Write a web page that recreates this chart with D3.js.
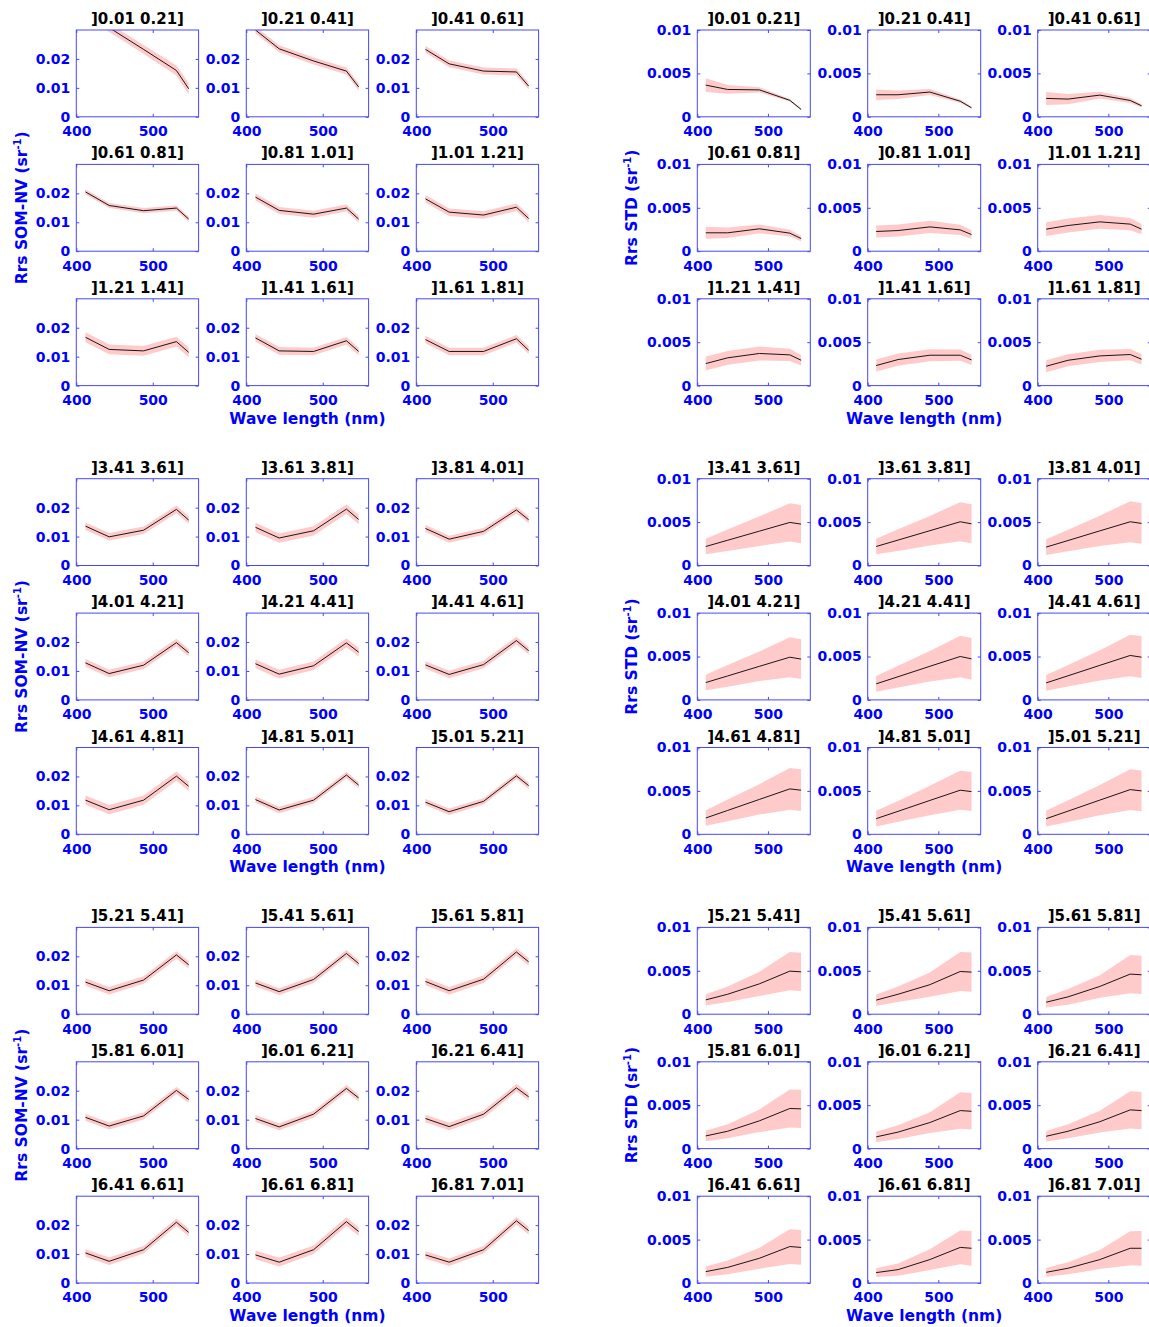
<!DOCTYPE html>
<html><head><meta charset="utf-8">
<script src="https://cdn.jsdelivr.net/npm/d3@7"></script>
<style>
body{margin:0;background:#fff}
text{font-family:"DejaVu Sans",sans-serif;font-weight:bold}
</style>
</head><body>
<svg id="c" width="1149" height="1327"></svg>
<script>
// ---------------- data ----------------
const wavelengths = [412, 443, 488, 531, 547];
const xTicks = [400, 500];
const somTicks = [0, 0.01, 0.02];
const somTickLabels = ["0", "0.01", "0.02"];
const stdTicks = [0, 0.005, 0.01];
const stdTickLabels = ["0", "0.005", "0.01"];
const xTickLabels = ["400", "500"];
const xLabel = "Wave length (nm)";
const somLabel = "Rrs SOM-NV (sr";
const stdLabel = "Rrs STD (sr";

const binTitles = [
  "]0.01 0.21]", "]0.21 0.41]", "]0.41 0.61]",
  "]0.61 0.81]", "]0.81 1.01]", "]1.01 1.21]",
  "]1.21 1.41]", "]1.41 1.61]", "]1.61 1.81]",
  "]3.41 3.61]", "]3.61 3.81]", "]3.81 4.01]",
  "]4.01 4.21]", "]4.21 4.41]", "]4.41 4.61]",
  "]4.61 4.81]", "]4.81 5.01]", "]5.01 5.21]",
  "]5.21 5.41]", "]5.41 5.61]", "]5.61 5.81]",
  "]5.81 6.01]", "]6.01 6.21]", "]6.21 6.41]",
  "]6.41 6.61]", "]6.61 6.81]", "]6.81 7.01]"
];

// Rrs SOM-NV mean spectra (sr^-1)
const somMean = [
  [0.0360, 0.0308, 0.0233, 0.0160, 0.0097],
  [0.0300, 0.0235, 0.0193, 0.0158, 0.0103],
  [0.0233, 0.0183, 0.0158, 0.0155, 0.0106],
  [0.0205, 0.0158, 0.0140, 0.0149, 0.0111],
  [0.0187, 0.0141, 0.0128, 0.0149, 0.0111],
  [0.0181, 0.0135, 0.0125, 0.0152, 0.0113],
  [0.0167, 0.0125, 0.0120, 0.0152, 0.0115],
  [0.0165, 0.0120, 0.0118, 0.0155, 0.0118],
  [0.0159, 0.0118, 0.0118, 0.0162, 0.0122],
  [0.0136, 0.0099, 0.0122, 0.0194, 0.0157],
  [0.0132, 0.0095, 0.0120, 0.0195, 0.0159],
  [0.0128, 0.0091, 0.0118, 0.0192, 0.0158],
  [0.0128, 0.0091, 0.0120, 0.0198, 0.0163],
  [0.0125, 0.0089, 0.0118, 0.0197, 0.0165],
  [0.0121, 0.0088, 0.0122, 0.0205, 0.0170],
  [0.0118, 0.0085, 0.0118, 0.0201, 0.0166],
  [0.0120, 0.0084, 0.0118, 0.0205, 0.0170],
  [0.0111, 0.0078, 0.0114, 0.0202, 0.0168],
  [0.0111, 0.0081, 0.0118, 0.0205, 0.0171],
  [0.0108, 0.0078, 0.0120, 0.0210, 0.0175],
  [0.0113, 0.0081, 0.0121, 0.0215, 0.0181],
  [0.0108, 0.0078, 0.0113, 0.0201, 0.0170],
  [0.0104, 0.0075, 0.0119, 0.0208, 0.0175],
  [0.0104, 0.0076, 0.0119, 0.0210, 0.0179],
  [0.0104, 0.0075, 0.0115, 0.0210, 0.0175],
  [0.0097, 0.0072, 0.0115, 0.0212, 0.0178],
  [0.0097, 0.0072, 0.0115, 0.0215, 0.0181]
];
// half-width of shaded band around SOM-NV spectra
const somSpread = [
  [0.0015, 0.0015, 0.0015, 0.0017, 0.0020],
  [0.0012, 0.0012, 0.0012, 0.0012, 0.0012],
  [0.0012, 0.0012, 0.0012, 0.0012, 0.0012],
  [0.0009, 0.0009, 0.0009, 0.0009, 0.0009],
  [0.0012, 0.0012, 0.0012, 0.0012, 0.0012],
  [0.0013, 0.0013, 0.0013, 0.0013, 0.0013],
  [0.0017, 0.0017, 0.0017, 0.0017, 0.0017],
  [0.0013, 0.0013, 0.0013, 0.0013, 0.0013],
  [0.0013, 0.0013, 0.0013, 0.0013, 0.0013],
  [0.0013, 0.0013, 0.0013, 0.0013, 0.0013],
  [0.0016, 0.0016, 0.0016, 0.0016, 0.0016],
  [0.0012, 0.0012, 0.0012, 0.0012, 0.0012],
  [0.0013, 0.0013, 0.0013, 0.0013, 0.0013],
  [0.0015, 0.0015, 0.0015, 0.0015, 0.0015],
  [0.0013, 0.0013, 0.0013, 0.0013, 0.0013],
  [0.0016, 0.0016, 0.0016, 0.0016, 0.0016],
  [0.0011, 0.0011, 0.0011, 0.0011, 0.0011],
  [0.0011, 0.0011, 0.0011, 0.0011, 0.0011],
  [0.0013, 0.0013, 0.0013, 0.0013, 0.0013],
  [0.0012, 0.0012, 0.0012, 0.0012, 0.0012],
  [0.0013, 0.0013, 0.0013, 0.0013, 0.0013],
  [0.0012, 0.0012, 0.0012, 0.0012, 0.0012],
  [0.0012, 0.0012, 0.0012, 0.0012, 0.0012],
  [0.0013, 0.0013, 0.0013, 0.0013, 0.0013],
  [0.0013, 0.0013, 0.0013, 0.0013, 0.0013],
  [0.0015, 0.0015, 0.0015, 0.0015, 0.0015],
  [0.0013, 0.0013, 0.0013, 0.0013, 0.0013]
];

// Rrs STD mean spectra (sr^-1)
const stdMean = [
  [0.00365, 0.00315, 0.00310, 0.00190, 0.00085],
  [0.00254, 0.00254, 0.00285, 0.00180, 0.00104],
  [0.00212, 0.00204, 0.00250, 0.00188, 0.00127],
  [0.00212, 0.00212, 0.00258, 0.00208, 0.00146],
  [0.00227, 0.00238, 0.00280, 0.00246, 0.00192],
  [0.00254, 0.00296, 0.00338, 0.00312, 0.00254],
  [0.00254, 0.00320, 0.00370, 0.00354, 0.00292],
  [0.00231, 0.00300, 0.00350, 0.00350, 0.00296],
  [0.00223, 0.00292, 0.00342, 0.00358, 0.00304],
  [0.00219, 0.00291, 0.00396, 0.00496, 0.00477],
  [0.00219, 0.00293, 0.00401, 0.00504, 0.00480],
  [0.00212, 0.00288, 0.00399, 0.00504, 0.00485],
  [0.00200, 0.00276, 0.00387, 0.00492, 0.00470],
  [0.00185, 0.00267, 0.00387, 0.00500, 0.00473],
  [0.00196, 0.00278, 0.00398, 0.00512, 0.00492],
  [0.00188, 0.00275, 0.00402, 0.00523, 0.00508],
  [0.00180, 0.00265, 0.00390, 0.00508, 0.00492],
  [0.00180, 0.00267, 0.00394, 0.00515, 0.00500],
  [0.00165, 0.00230, 0.00350, 0.00496, 0.00488],
  [0.00162, 0.00230, 0.00340, 0.00492, 0.00485],
  [0.00138, 0.00200, 0.00320, 0.00462, 0.00454],
  [0.00146, 0.00200, 0.00320, 0.00462, 0.00458],
  [0.00135, 0.00190, 0.00300, 0.00438, 0.00430],
  [0.00142, 0.00200, 0.00310, 0.00446, 0.00438],
  [0.00131, 0.00180, 0.00285, 0.00420, 0.00410],
  [0.00120, 0.00154, 0.00270, 0.00410, 0.00400],
  [0.00123, 0.00170, 0.00270, 0.00400, 0.00400]
];
// half-width of shaded band around STD spectra
const stdSpread = [
  [0.00080, 0.00050, 0.00030, 0.00015, 0.00010],
  [0.00060, 0.00050, 0.00035, 0.00020, 0.00012],
  [0.00075, 0.00060, 0.00040, 0.00030, 0.00020],
  [0.00070, 0.00060, 0.00050, 0.00040, 0.00030],
  [0.00070, 0.00070, 0.00070, 0.00060, 0.00050],
  [0.00080, 0.00080, 0.00080, 0.00070, 0.00060],
  [0.00080, 0.00080, 0.00080, 0.00070, 0.00060],
  [0.00070, 0.00070, 0.00070, 0.00065, 0.00060],
  [0.00070, 0.00070, 0.00070, 0.00065, 0.00060],
  [0.00090, 0.00125, 0.00170, 0.00220, 0.00220],
  [0.00090, 0.00125, 0.00170, 0.00225, 0.00225],
  [0.00090, 0.00125, 0.00175, 0.00235, 0.00235],
  [0.00090, 0.00125, 0.00170, 0.00230, 0.00230],
  [0.00090, 0.00125, 0.00175, 0.00240, 0.00240],
  [0.00090, 0.00125, 0.00175, 0.00240, 0.00240],
  [0.00090, 0.00125, 0.00175, 0.00240, 0.00240],
  [0.00090, 0.00120, 0.00170, 0.00225, 0.00225],
  [0.00090, 0.00125, 0.00175, 0.00235, 0.00235],
  [0.00065, 0.00090, 0.00140, 0.00220, 0.00220],
  [0.00065, 0.00090, 0.00140, 0.00225, 0.00225],
  [0.00060, 0.00090, 0.00130, 0.00220, 0.00220],
  [0.00060, 0.00080, 0.00130, 0.00220, 0.00220],
  [0.00060, 0.00080, 0.00120, 0.00210, 0.00210],
  [0.00060, 0.00080, 0.00125, 0.00215, 0.00215],
  [0.00060, 0.00080, 0.00120, 0.00200, 0.00200],
  [0.00050, 0.00070, 0.00120, 0.00195, 0.00200],
  [0.00050, 0.00070, 0.00110, 0.00195, 0.00200]
];

// ---------------- layout ----------------
const svg = d3.select("#c");
const BLUE = "#0000ff", BOX = "#4646ff", BAND = "#ffcaca";
const leftCols = [76.3, 246.3, 416.3], leftW = 122.3;
const rightCols = [697.3, 867.7, 1037.7], rightW = 113;
const panelH = 86.8;
const groupTop = g => 30 + g * 448.7;
const rowTop = (g, r) => groupTop(g) + r * 134.4;
let clipId = 0;

function panel(x0, y0, w, yDomain, yTicks, yLabels, mean, spread, title) {
  const x = d3.scaleLinear().domain([400, 560]).range([0, w]);
  const y = d3.scaleLinear().domain(yDomain).range([panelH, 0]);
  const g = svg.append("g").attr("transform", `translate(${x0},${y0})`);
  const id = "clip" + (clipId++);
  g.append("clipPath").attr("id", id).append("rect")
    .attr("x", 0).attr("y", 0).attr("width", w).attr("height", panelH);
  const plot = g.append("g").attr("clip-path", `url(#${id})`);
  const pts = wavelengths.map((wl, i) => ({wl, m: mean[i], s: spread[i]}));
  plot.append("path").datum(pts)
    .attr("fill", BAND).attr("stroke", "none")
    .attr("d", d3.area().x(d => x(d.wl)).y0(d => y(d.m - d.s)).y1(d => y(d.m + d.s)));
  plot.append("path").datum(pts)
    .attr("fill", "none").attr("stroke", "#000").attr("stroke-width", 0.9)
    .attr("d", d3.line().x(d => x(d.wl)).y(d => y(d.m)));

  // axes
  const fmtX = (d, i) => xTickLabels[i];
  const fmtY = (d, i) => yLabels[i];
  const ax = g.append("g").attr("transform", `translate(0,${panelH})`)
    .call(d3.axisBottom(x).tickValues(xTicks).tickFormat(fmtX).tickSize(-3).tickPadding(9.5));
  const ay = g.append("g")
    .call(d3.axisLeft(y).tickValues(yTicks).tickFormat(fmtY).tickSize(-3).tickPadding(6));
  const at = g.append("g")
    .call(d3.axisTop(x).tickValues(xTicks).tickFormat("").tickSize(-3));
  const ar = g.append("g").attr("transform", `translate(${w},0)`)
    .call(d3.axisRight(y).tickValues(yTicks).tickFormat("").tickSize(-3));
  [ax, ay, at, ar].forEach(a => {
    a.select(".domain").remove();
    a.selectAll("line").attr("stroke", BOX);
    a.selectAll("text").attr("fill", BLUE).style("font-size", "14px")
      .style("font-family", "'DejaVu Sans',sans-serif").style("font-weight", "bold");
  });
  g.append("rect").attr("x", 0).attr("y", 0).attr("width", w).attr("height", panelH)
    .attr("fill", "none").attr("stroke", BOX).attr("stroke-width", 1);
  g.append("text").attr("x", w / 2).attr("y", -6).attr("text-anchor", "middle")
    .attr("fill", "#000").style("font-size", "15px").text(title);
}

function yTitle(x, yc, label) {
  const t = svg.append("text").attr("transform", `translate(${x},${yc}) rotate(-90)`)
    .attr("text-anchor", "middle").attr("fill", BLUE).style("font-size", "15.5px");
  t.append("tspan").text(label);
  t.append("tspan").attr("dy", -6).style("font-size", "10px").text("-1");
  t.append("tspan").attr("dy", 6).text(")");
}

for (let g = 0; g < 3; g++) {
  for (let r = 0; r < 3; r++) {
    for (let c = 0; c < 3; c++) {
      const k = g * 9 + r * 3 + c;
      panel(leftCols[c], rowTop(g, r), leftW, [0, 0.03], somTicks, somTickLabels,
        somMean[k], somSpread[k], binTitles[k]);
      panel(rightCols[c], rowTop(g, r), rightW, [0, 0.01], stdTicks, stdTickLabels,
        stdMean[k], stdSpread[k], binTitles[k]);
    }
  }
  const midY = rowTop(g, 1) + panelH / 2;
  yTitle(26.5, midY, somLabel);
  yTitle(637, midY, stdLabel);
  const by = rowTop(g, 2) + panelH + 38;
  svg.append("text").attr("x", leftCols[1] + leftW / 2).attr("y", by)
    .attr("text-anchor", "middle").attr("fill", BLUE).style("font-size", "15.5px").text(xLabel);
  svg.append("text").attr("x", rightCols[1] + rightW / 2).attr("y", by)
    .attr("text-anchor", "middle").attr("fill", BLUE).style("font-size", "15.5px").text(xLabel);
}
</script>
</body></html>
